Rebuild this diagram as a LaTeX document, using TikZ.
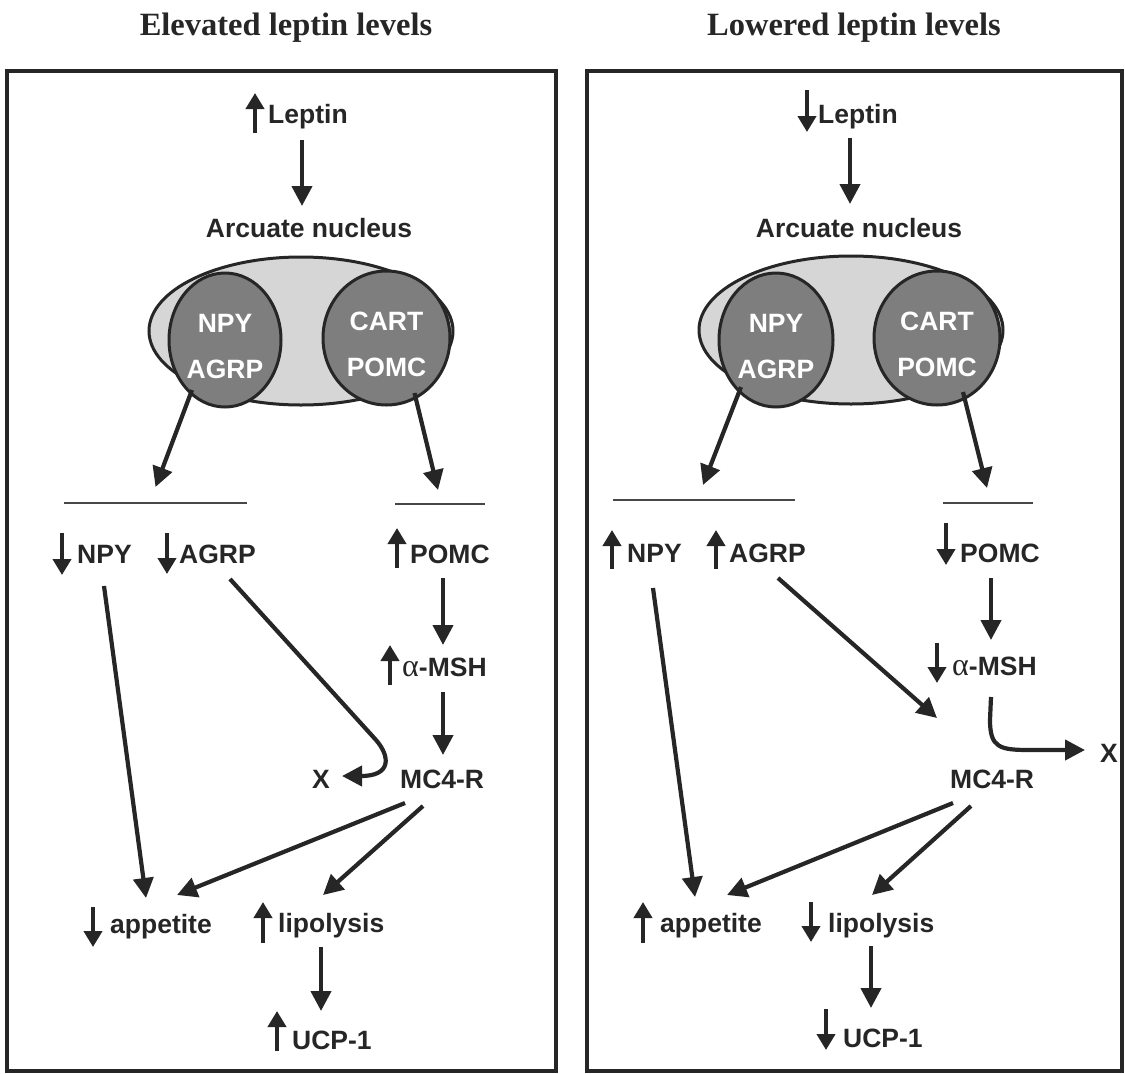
\documentclass[tikz,border=0pt]{standalone}
\usepackage{fontspec}
\setmainfont{Liberation Sans}
\newfontfamily\titlefont{Liberation Serif}
\newfontfamily\greekfont{Liberation Serif}
\usetikzlibrary{arrows.meta,shapes.geometric}
\definecolor{ink}{HTML}{262626}
\definecolor{lightfill}{HTML}{D6D6D6}
\definecolor{cellfill}{HTML}{7E7E7E}
\newcommand{\alphasym}{{\greekfont\mdseries\fontsize{32}{30}\selectfont α}}
\begin{document}
\begin{tikzpicture}[x=1pt,y=-1pt,
  lbl/.style={anchor=base west,inner sep=0pt,text=ink,font=\fontsize{26.5}{30}\selectfont\bfseries},
  ttl/.style={anchor=base,inner sep=0pt,text=ink,font=\titlefont\fontsize{32.5}{36}\selectfont\bfseries},
  outer/.style={ellipse,draw=ink,line width=3pt,fill=lightfill,minimum width=304pt,minimum height=148pt,inner sep=0pt},
  cell/.style={ellipse,draw=ink,line width=3pt,fill=cellfill,minimum height=134pt,inner sep=0pt,
    text=white,align=center,font=\fontsize{26.5}{46}\selectfont\bfseries,text height=76pt,text depth=0pt},
  bigarr/.style={draw=ink,line width=4.2pt,-{Triangle[length=20pt,width=20pt]}},
  indarr/.style={draw=ink,line width=4pt,-{Triangle[length=16pt,width=18pt]}},
  bar/.style={draw=ink!85,line width=2.2pt},
  frame/.style={draw=ink,line width=3.6pt}]
\useasboundingbox (0,0) rectangle (1125,1074);

% titles and frames
\node[ttl] (tL) at (286,35) {Elevated leptin levels};
\node[ttl] (tR) at (854,35) {Lowered leptin levels};
\draw[frame] (7,71) rectangle (556,1071);
\draw[frame] (587,71) rectangle (1122,1071);

% ================= LEFT PANEL =================
\node[lbl] (lepL) at (268,123) {Leptin};
\node[lbl,anchor=base] (arcL) at (309,237) {Arcuate nucleus};
\node[outer] (ellL) at (301,331) {};
\node[cell,minimum width=112pt] (cNL) at (225,340) {NPY\\AGRP};
\node[cell,minimum width=127pt] (cCL) at (386.5,338) {CART\\POMC};
\coordinate (barL1) at (155.5,503);
\coordinate (barL2) at (440,504);
\node[lbl] (npyL) at (77,563) {NPY};
\node[lbl] (agrpL) at (179,563) {AGRP};
\node[lbl] (pomcL) at (410,563) {POMC};
\node[lbl] (amshL) at (402,676) {\alphasym-MSH};
\node[lbl] (mcL) at (400,788) {MC4-R};
\node[lbl] (xL) at (312,788) {X};
\node[lbl] (appL) at (110,933) {appetite};
\node[lbl] (lipL) at (278,932) {lipolysis};
\node[lbl] (ucpL) at (292,1049) {UCP-1};

% indicators
\draw[indarr] ([shift={(-13,10)}]lepL.base west) -- ++(0,-40);
\draw[indarr] ([shift={(-15,-30)}]npyL.base west) -- ++(0,42);
\draw[indarr] ([shift={(-12,-30)}]agrpL.base west) -- ++(0,41);
\draw[indarr] ([shift={(-13,5)}]pomcL.base west) -- ++(0,-40);
\draw[indarr] ([shift={(-12,9)}]amshL.base west) -- ++(0,-40);
\draw[indarr] ([shift={(-17,-26)}]appL.base west) -- ++(0,40);
\draw[indarr] ([shift={(-15,11)}]lipL.base west) -- ++(0,-41);
\draw[indarr] ([shift={(-15,2)}]ucpL.base west) -- ++(0,-40);

% bars
\draw[bar] ([xshift=-91.5]barL1) -- ([xshift=91.5]barL1);
\draw[bar] ([xshift=-45]barL2) -- ([xshift=45]barL2);

% connectors
\draw[bigarr] ([shift={(34,17)}]lepL.base west) -- ([shift={(-7,-31)}]arcL.base);
\draw[bigarr] ([shift={(-33,50)}]cNL.center) -- ([shift={(0,-16)}]barL1);
\draw[bigarr] ([shift={(28,55)}]cCL.center) -- ([shift={(-2,-14)}]barL2);
\draw[bigarr] ([shift={(33,15)}]pomcL.base west) -- ([shift={(41,-31)}]amshL.base west);
\draw[bigarr] ([shift={(41,16)}]amshL.base west) -- ([shift={(43,-33)}]mcL.base west);
\draw[bigarr] ([shift={(51,16)}]agrpL.base west) -- ([shift={(64,-48)}]xL.base west)
  .. controls ([shift={(78,-32)}]xL.base west) and ([shift={(80,-12)}]xL.base west) .. ([shift={(30,-12)}]xL.base west);
\draw[bigarr] ([shift={(27,23)}]npyL.base west) -- ([shift={(36,-35)}]appL.base west);
\draw[bigarr] ([shift={(5,15)}]mcL.base west) -- ([shift={(67,-38)}]appL.base west);
\draw[bigarr] ([shift={(23,18)}]mcL.base west) -- ([shift={(45,-37)}]lipL.base west);
\draw[bigarr] ([shift={(43,15)}]lipL.base west) -- ([shift={(29,-38)}]ucpL.base west);

% ================= RIGHT PANEL =================
\node[lbl] (lepR) at (818,123) {Leptin};
\node[lbl,anchor=base] (arcR) at (859,237) {Arcuate nucleus};
\node[outer] (ellR) at (851,330) {};
\node[cell,minimum width=114pt] (cNR) at (776,340) {NPY\\AGRP};
\node[cell,minimum width=126pt] (cCR) at (937,338) {CART\\POMC};
\coordinate (barR1) at (704,500);
\coordinate (barR2) at (988,503);
\node[lbl] (npyR) at (627,562) {NPY};
\node[lbl] (agrpR) at (729,562) {AGRP};
\node[lbl] (pomcR) at (960,562) {POMC};
\node[lbl] (amshR) at (952,675) {\alphasym-MSH};
\node[lbl] (mcR) at (950,788) {MC4-R};
\node[lbl] (xR) at (1100,762) {X};
\node[lbl] (appR) at (660,932) {appetite};
\node[lbl] (lipR) at (828,932) {lipolysis};
\node[lbl] (ucpR) at (843,1047) {UCP-1};

% indicators
\draw[indarr] ([shift={(-11,-33)}]lepR.base west) -- ++(0,42);
\draw[indarr] ([shift={(-15,7)}]npyR.base west) -- ++(0,-39);
\draw[indarr] ([shift={(-13,7)}]agrpR.base west) -- ++(0,-39);
\draw[indarr] ([shift={(-14,-39)}]pomcR.base west) -- ++(0,42);
\draw[indarr] ([shift={(-15,-32)}]amshR.base west) -- ++(0,40);
\draw[indarr] ([shift={(-17,11)}]appR.base west) -- ++(0,-41);
\draw[indarr] ([shift={(-17,-30)}]lipR.base west) -- ++(0,40);
\draw[indarr] ([shift={(-17,-38)}]ucpR.base west) -- ++(0,41);

% bars
\draw[bar] ([xshift=-91]barR1) -- ([xshift=91]barR1);
\draw[bar] ([xshift=-45]barR2) -- ([xshift=45]barR2);

% connectors
\draw[bigarr] ([shift={(32,15)}]lepR.base west) -- ([shift={(-9,-33)}]arcR.base);
\draw[bigarr] ([shift={(-35,47)}]cNR.center) -- ([shift={(-1,-15)}]barR1);
\draw[bigarr] ([shift={(26,54)}]cCR.center) -- ([shift={(-1,-15)}]barR2);
\draw[bigarr] ([shift={(31,16)}]pomcR.base west) -- ([shift={(39,-35)}]amshR.base west);
\draw[bigarr] ([shift={(39,22)}]amshR.base west) -- ([shift={(-110,-42)}]xR.base west)
  .. controls ([shift={(-110,-14)}]xR.base west) and ([shift={(-100,-12)}]xR.base west) .. ([shift={(-70,-12)}]xR.base west)
  -- ([shift={(-15,-12)}]xR.base west);
\draw[bigarr] ([shift={(49,16)}]agrpR.base west) -- ([shift={(-13,-70)}]mcR.base west);
\draw[bigarr] ([shift={(26,26)}]npyR.base west) -- ([shift={(35,-35)}]appR.base west);
\draw[bigarr] ([shift={(3,15)}]mcR.base west) -- ([shift={(67,-37)}]appR.base west);
\draw[bigarr] ([shift={(21,18)}]mcR.base west) -- ([shift={(44,-37)}]lipR.base west);
\draw[bigarr] ([shift={(43,14)}]lipR.base west) -- ([shift={(28,-39)}]ucpR.base west);
\end{tikzpicture}
\end{document}
